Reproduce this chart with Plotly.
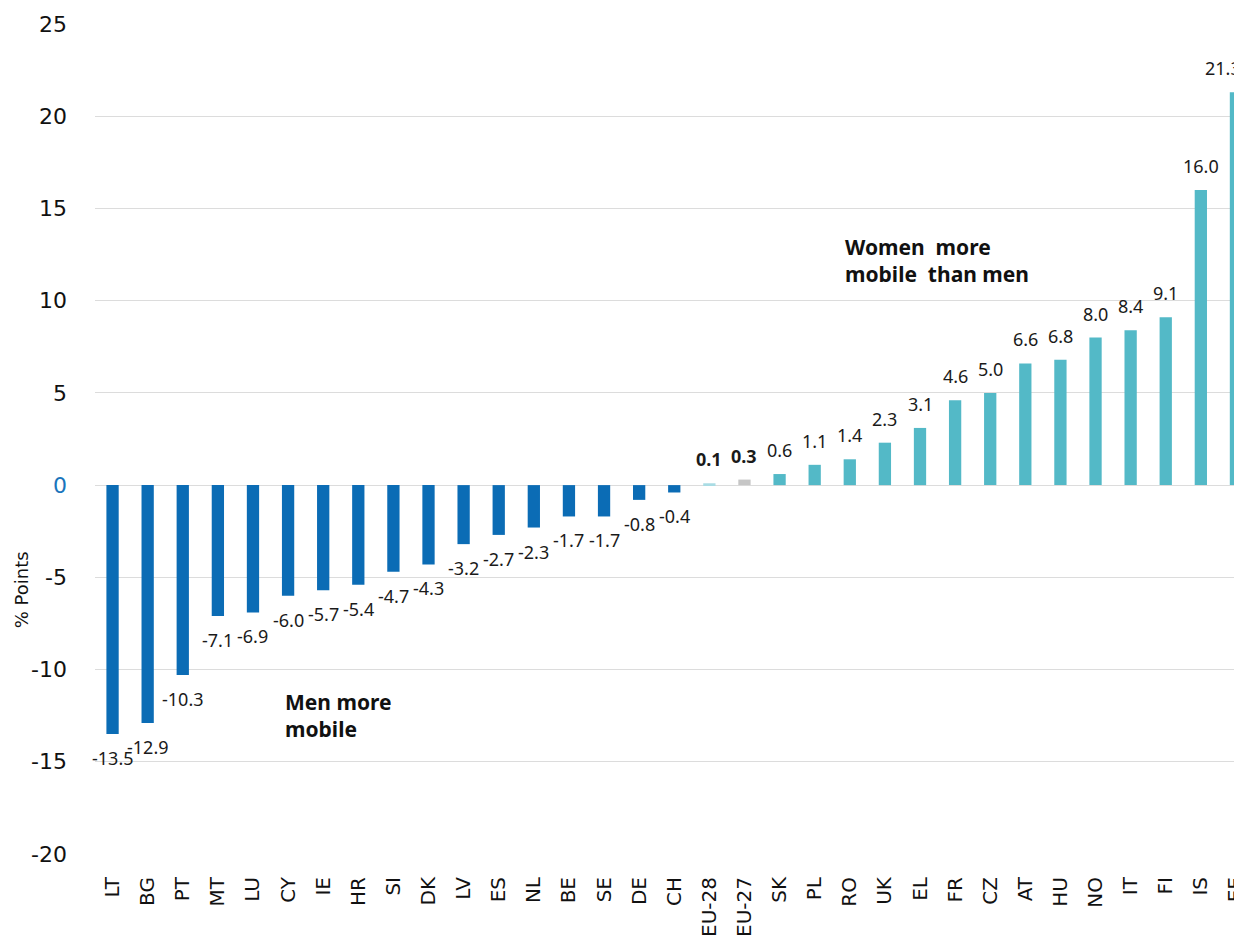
import plotly.graph_objects as go

countries = ["LT", "BG", "PT", "MT", "LU", "CY", "IE", "HR", "SI", "DK", "LV", "ES",
             "NL", "BE", "SE", "DE", "CH", "EU-28", "EU-27", "SK", "PL", "RO", "UK",
             "EL", "FR", "CZ", "AT", "HU", "NO", "IT", "FI", "IS", "EE"]
gap = [-13.5, -12.9, -10.3, -7.1, -6.9, -6.0, -5.7, -5.4, -4.7, -4.3, -3.2, -2.7,
       -2.3, -1.7, -1.7, -0.8, -0.4, 0.1, 0.3, 0.6, 1.1, 1.4, 2.3,
       3.1, 4.6, 5.0, 6.6, 6.8, 8.0, 8.4, 9.1, 16.0, 21.3]

y_ticks = [-20, -15, -10, -5, 0, 5, 10, 15, 20, 25]

blue = "#0B6CB5"
teal = "#53B9C7"

colors = []
for c, v in zip(countries, gap):
    if c == "EU-28":
        colors.append("#A9DCE4")
    elif c == "EU-27":
        colors.append("#C6C6C6")
    elif v < 0:
        colors.append(blue)
    else:
        colors.append(teal)

fig = go.Figure()
fig.add_trace(go.Bar(x=countries, y=gap, marker_color=colors, width=0.35,
                     marker_line_width=0, showlegend=False))

label_font = "Noto Sans, DejaVu Sans, sans-serif"
for i, (c, v) in enumerate(zip(countries, gap)):
    txt = f"{v:.1f}"
    if c.startswith("EU"):
        txt = "<b>" + txt + "</b>"
    # last label sits against the right edge, nudge it left
    shift = -13 if i == len(countries) - 1 else 0
    if v >= 0:
        fig.add_annotation(x=c, y=v, text=txt, showarrow=False, yanchor="bottom",
                           yshift=10, xshift=shift,
                           font=dict(size=18, color="#1a1a1a", family=label_font))
    else:
        fig.add_annotation(x=c, y=v, text=txt, showarrow=False, yanchor="top",
                           yshift=-10,
                           font=dict(size=18, color="#1a1a1a", family=label_font))

fig.add_annotation(x=20.8, y=13.8, text="<b>Women  more<br>mobile  than men</b>",
                   showarrow=False, xanchor="left", yanchor="top", align="left",
                   font=dict(size=21, color="#111111", family=label_font))
fig.add_annotation(x=4.85, y=-10.9, text="<b>Men more<br>mobile</b>",
                   showarrow=False, xanchor="left", yanchor="top", align="left",
                   font=dict(size=21, color="#111111", family=label_font))

fig.add_annotation(xref="paper", x=-0.064, yref="y", y=-5.7, text="% Points",
                   textangle=-90, showarrow=False, xanchor="center", yanchor="middle",
                   font=dict(size=18, color="#111111", family="DejaVu Sans"))

tick_text = [("<span style='color:#1A75BC'>0</span>" if t == 0 else str(t)) for t in y_ticks]

# page body adds an 8px margin, so the plot margins are trimmed by that much
fig.update_layout(
    width=1242, height=930,
    margin=dict(l=87, r=0, t=16, b=84),
    plot_bgcolor="white", paper_bgcolor="white",
    font=dict(family="DejaVu Sans", color="#111111"),
)
fig.update_xaxes(range=[-0.5, 32.4], tickangle=-90, tickfont=dict(size=20),
                 ticklabelstandoff=18, showgrid=False, showline=False, ticks="",
                 automargin=False)
fig.update_yaxes(range=[-20, 25], tickvals=y_ticks, ticktext=tick_text,
                 tickfont=dict(size=22), ticklabelstandoff=27,
                 showgrid=True, gridcolor="#DCDCDC", gridwidth=1,
                 zeroline=False, showline=False, ticks="", automargin=False)

fig.write_html("out.html")
